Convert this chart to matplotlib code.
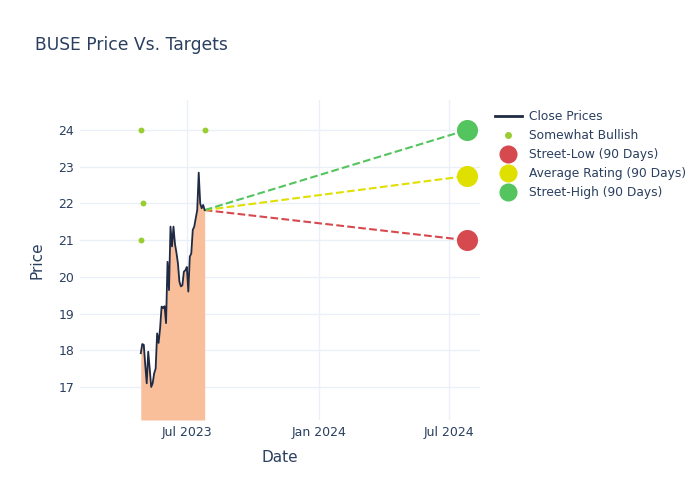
import matplotlib
matplotlib.use('Agg')
import matplotlib.pyplot as plt
import matplotlib.dates as mdates
from matplotlib.lines import Line2D
import pandas as pd

# close prices (late Apr 2023 -> late Jul 2023)
price_start = '2023-04-28'
price_end = '2023-07-26'
close_prices = [17.92, 18.17, 18.15, 17.6, 17.1, 17.96, 17.5, 17.0, 17.1, 17.37,
                17.5, 18.46, 18.2, 18.6, 19.19, 19.15, 19.2, 18.74, 20.41, 19.64,
                21.37, 20.83, 21.37, 20.9, 20.66, 20.37, 19.87, 19.74, 19.77, 20.14,
                20.18, 20.27, 19.6, 20.55, 20.64, 21.28, 21.37, 21.6, 21.82, 22.84,
                22.0, 21.87, 21.96, 21.82]

# analyst ratings
rating_dates = ['2023-04-28', '2023-04-28', '2023-05-01', '2023-07-26']
rating_prices = [24, 21, 22, 24]

# 90 day targets
target_date = '2024-07-25'
street_low = 21.0
avg_rating = 22.75
street_high = 24.0

dates = pd.date_range(price_start, price_end, periods=len(close_prices))
rd = pd.to_datetime(rating_dates)
td = pd.Timestamp(target_date)

txt = '#2a3f5f'
grid = '#ebf0f8'
plt.rcParams['font.family'] = ['DejaVu Sans']

fig = plt.figure(figsize=(7, 5), dpi=100)
ax = fig.add_axes([0.114, 0.16, 0.572, 0.64])

ymin, ymax = 16.1, 24.82
ax.fill_between(dates, close_prices, ymin, color='#f9bf9b', lw=0, zorder=1)
ax.plot(dates, close_prices, color='#1f2a44', lw=1.3, zorder=3)
ax.scatter(rd, rating_prices, s=18, color='#9acd32', zorder=4, lw=0)

last_d, last_p = dates[-1], close_prices[-1]
cols = {'low': '#d6494f', 'avg': '#e0e000', 'high': '#54c45e'}
for val, c in [(street_low, cols['low']), (avg_rating, cols['avg']), (street_high, cols['high'])]:
    ax.plot([last_d, td], [last_p, val], ls='--', color=c, lw=1.5, zorder=2)
    ax.scatter([td], [val], s=230, color=c, zorder=5, lw=0)

ax.set_xlim(pd.Timestamp('2023-02-02'), pd.Timestamp('2024-08-13'))
ax.set_ylim(ymin, ymax)
ax.set_yticks(range(17, 25))
ax.xaxis.set_major_locator(mdates.MonthLocator(bymonth=[1, 7]))
ax.xaxis.set_major_formatter(mdates.DateFormatter('%b %Y'))
ax.grid(True, color=grid, lw=1, zorder=0)
ax.set_axisbelow(True)
for s in ax.spines.values():
    s.set_visible(False)
ax.tick_params(length=0, colors=txt, labelsize=9, pad=4)
ax.set_xlabel('Date', color=txt, fontsize=11, labelpad=8)
ax.set_ylabel('Price', color=txt, fontsize=11, labelpad=10)

fig.text(0.05, 0.911, 'BUSE Price Vs. Targets', color=txt, fontsize=12.3, va='center')

handles = [
    Line2D([], [], color='#1f2a44', lw=2),
    Line2D([], [], marker='o', ls='', color='#9acd32', markersize=4),
    Line2D([], [], marker='o', ls='', color=cols['low'], markersize=12),
    Line2D([], [], marker='o', ls='', color=cols['avg'], markersize=12),
    Line2D([], [], marker='o', ls='', color=cols['high'], markersize=12),
]
labels = ['Close Prices', 'Somewhat Bullish', 'Street-Low (90 Days)',
          'Average Rating (90 Days)', 'Street-High (90 Days)']
leg = fig.legend(handles, labels, loc='upper left', bbox_to_anchor=(0.7, 0.79),
                 frameon=False, fontsize=8.8, handlelength=2.2, labelspacing=0.5,
                 borderaxespad=0, handletextpad=0.6)
for t in leg.get_texts():
    t.set_color(txt)

fig.savefig('out.png', dpi=100)
